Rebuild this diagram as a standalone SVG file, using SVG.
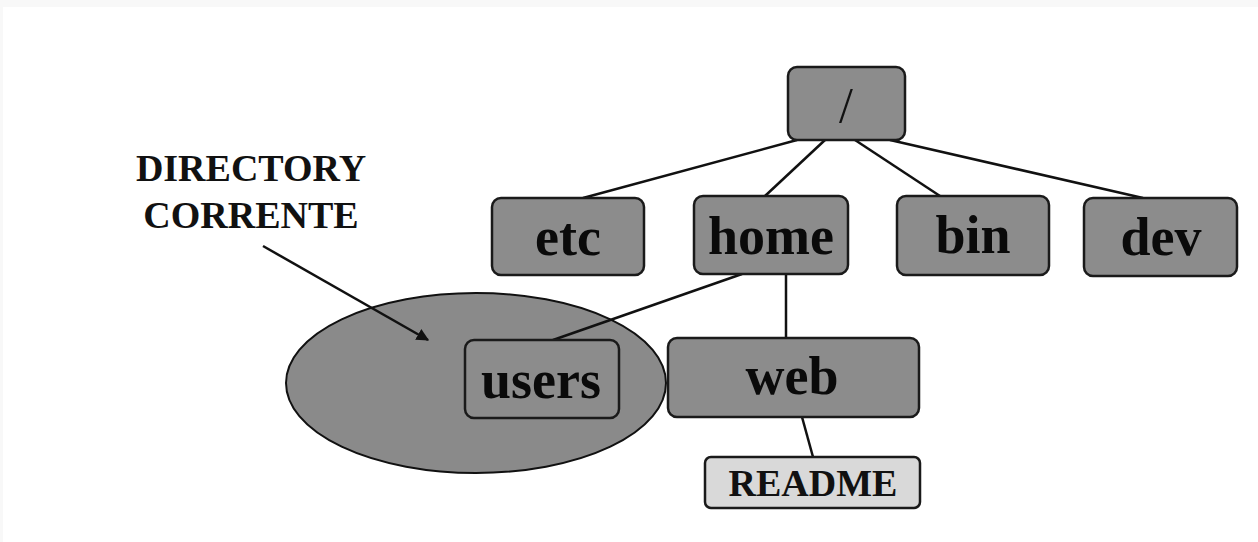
<svg xmlns="http://www.w3.org/2000/svg" width="1258" height="542" viewBox="0 0 1258 542">
<defs>
<style>
.box{fill:#8c8c8c;stroke:#1a1a1a;stroke-width:2.5}
.lbl{font-family:"Liberation Serif","Times New Roman",serif;font-weight:bold;font-size:54px;fill:#0a0a0a;text-anchor:middle}
.cap{font-family:"Liberation Serif","Times New Roman",serif;font-weight:bold;font-size:38px;fill:#111;text-anchor:middle}
.edge{stroke:#111;stroke-width:2.5;fill:none}
</style>
<marker id="ah" viewBox="0 0 10 10" refX="9" refY="5" markerWidth="5" markerHeight="5" orient="auto" markerUnits="strokeWidth">
<path d="M0,0 L10,5 L0,10 z" fill="#111"/>
</marker>
</defs>
<rect x="0" y="0" width="1258" height="542" fill="#ffffff"/>
<rect x="0" y="0" width="1258" height="7" fill="#f8f8f8"/>
<rect x="0" y="0" width="3" height="542" fill="#f8f8f8"/>

<g id="current-dir">
<ellipse cx="476" cy="383" rx="190" ry="90" fill="#8a8a8a" stroke="#111" stroke-width="2"/>
</g>

<g id="connectors">
<line class="edge" x1="797" y1="140" x2="583" y2="198"/>
<line class="edge" x1="825" y1="140" x2="765" y2="196"/>
<line class="edge" x1="855" y1="140" x2="940" y2="196"/>
<line class="edge" x1="890" y1="140" x2="1143" y2="198"/>
<line class="edge" x1="742" y1="274" x2="553" y2="340"/>
<line class="edge" x1="786" y1="274" x2="786" y2="338" stroke-width="3.5"/>
<line class="edge" x1="802" y1="417" x2="813" y2="457"/>
<line class="edge" x1="263" y1="246" x2="428" y2="340" stroke-width="3" marker-end="url(#ah)"/>
</g>

<g id="label-current">
<text class="cap" x="251" y="181">DIRECTORY</text>
<text class="cap" x="251" y="228">CORRENTE</text>
</g>

<g id="root">
<rect class="box" x="788" y="67" width="117" height="73" rx="9"/>
<text x="846" y="122" font-family="Liberation Serif, serif" font-size="50" fill="#111" text-anchor="middle">/</text>
</g>
<g id="etc">
<rect class="box" x="492" y="198" width="152" height="77" rx="9"/>
<text class="lbl" x="568" y="255">etc</text>
</g>
<g id="home">
<rect class="box" x="694" y="196" width="154" height="78" rx="9"/>
<text class="lbl" x="771" y="254">home</text>
</g>
<g id="bin">
<rect class="box" x="897" y="196" width="152" height="79" rx="9"/>
<text class="lbl" x="973" y="253">bin</text>
</g>
<g id="dev">
<rect class="box" x="1084" y="198" width="153" height="78" rx="9"/>
<text class="lbl" x="1161" y="255">dev</text>
</g>
<g id="users">
<rect class="box" x="465" y="340" width="154" height="78" rx="9"/>
<text class="lbl" x="541" y="398">users</text>
</g>
<g id="web">
<rect class="box" x="668" y="338" width="251" height="79" rx="9"/>
<text class="lbl" x="792" y="394">web</text>
</g>
<g id="readme">
<rect x="705" y="457" width="215" height="51" rx="6" fill="#d9d9d9" stroke="#1a1a1a" stroke-width="2.5"/>
<text class="cap" x="813" y="496" font-size="40">README</text>
</g>
</svg>
